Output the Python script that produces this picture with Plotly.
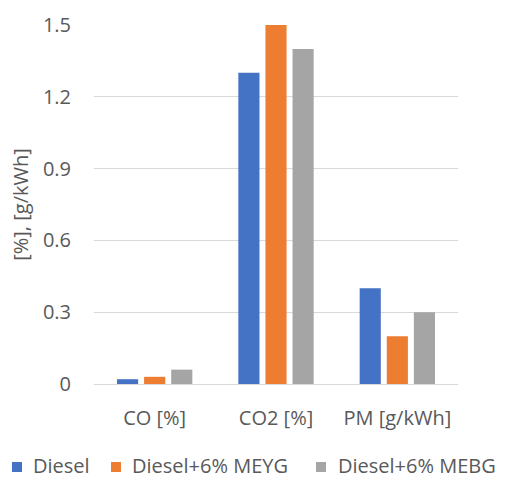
import plotly.graph_objects as go

# Emission results per fuel blend
categories = ["CO [%]", "CO2 [%]", "PM [g/kWh]"]
series_names = ["Diesel", "Diesel+6% MEYG", "Diesel+6% MEBG"]
diesel = [0.02, 1.30, 0.40]
meyg = [0.03, 1.50, 0.20]
mebg = [0.06, 1.40, 0.30]
y_ticks = [0, 0.3, 0.6, 0.9, 1.2, 1.5]
y_tick_text = ["0", "0.3", "0.6", "0.9", "1.2", "1.5"]

colors = ["#4472C4", "#ED7D31", "#A5A5A5"]
font_family = "'Open Sans', sans-serif"
text_color = "#595959"
fs = 20

W, H = 505, 479
ML, MR, MT, MB = 94, 47, 25, 95
PW, PH = W - ML - MR, H - MT - MB


def px_x(px):
    return (px - ML) / PW


def px_y(py):
    return (H - MB - py) / PH


fig = go.Figure()
for name, vals, col in zip(series_names, [diesel, meyg, mebg], colors):
    fig.add_trace(go.Bar(x=categories, y=vals, name=name, marker_color=col,
                         marker_line_width=0, showlegend=False))

# Legend row along the bottom: coloured square plus label for each series
legend_marker_left = [12, 111, 316]
legend_text_left = [32, 131, 337]
legend_marker_mid_y = 467
legend_text_mid_y = 465
for name, col, mx, tx in zip(series_names, colors, legend_marker_left, legend_text_left):
    fig.add_shape(type="rect", xref="paper", yref="paper",
                  x0=px_x(mx), x1=px_x(mx + 10),
                  y0=px_y(legend_marker_mid_y + 5), y1=px_y(legend_marker_mid_y - 5),
                  fillcolor=col, line_width=0)
    fig.add_annotation(xref="paper", yref="paper", x=px_x(tx), y=px_y(legend_text_mid_y),
                       text=name, showarrow=False, xanchor="left", yanchor="middle",
                       borderpad=0, font=dict(size=fs, color=text_color))

fig.update_layout(
    width=W, height=H,
    margin=dict(l=ML, r=MR, t=MT, b=MB),
    paper_bgcolor="white", plot_bgcolor="white",
    barmode="group", bargap=0.33, bargroupgap=0.22,
    font=dict(family=font_family, color=text_color, size=fs),
    showlegend=False,
    xaxis=dict(showgrid=False, showline=False, ticks="", zeroline=False,
               ticklabelstandoff=20,
               tickfont=dict(size=fs, color=text_color)),
    yaxis=dict(range=[0, 1.5], tickvals=y_ticks, ticktext=y_tick_text,
               showgrid=True, gridcolor="#D9D9D9", gridwidth=1.3,
               zeroline=True, zerolinecolor="#D9D9D9", zerolinewidth=1.3,
               showline=False, ticks="", ticklabelstandoff=22,
               tickfont=dict(size=fs, color=text_color),
               title=dict(text="[%], [g/kWh]", standoff=8,
                          font=dict(size=fs, color=text_color))),
)

fig.write_html("out.html")
